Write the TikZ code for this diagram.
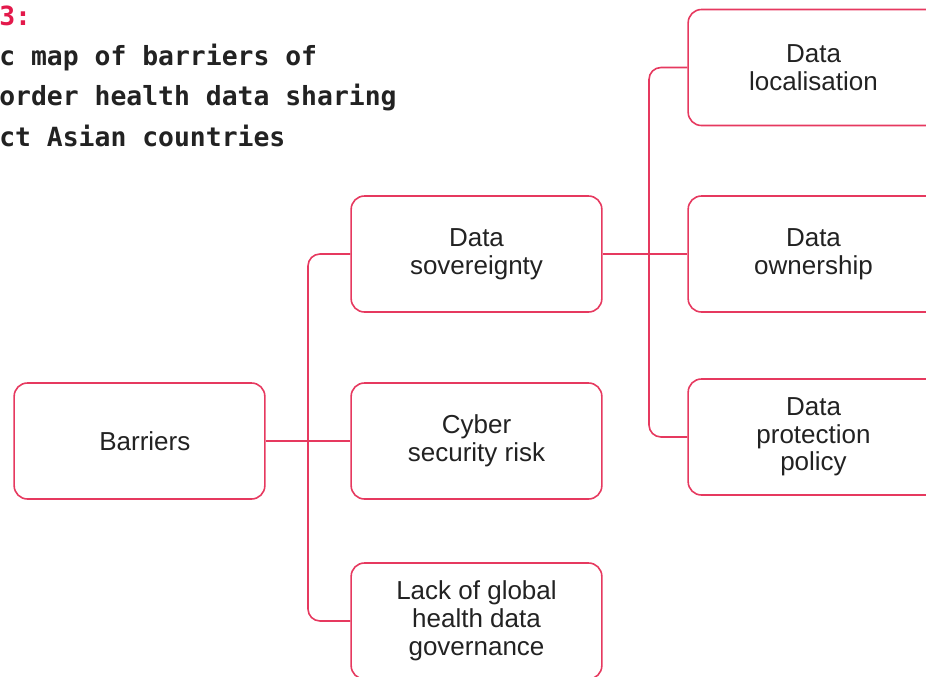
\documentclass[tikz,border=0pt]{standalone}
\usepackage{fontspec}
\setmainfont{Liberation Sans}
\newfontfamily\titlemono{DejaVu Sans Mono}
\usetikzlibrary{positioning}
\definecolor{barrierred}{HTML}{E6395F}
\definecolor{titlered}{HTML}{E3194B}
\definecolor{inkgray}{HTML}{222222}

\begin{document}
\begin{tikzpicture}[x=0.75pt,y=-0.75pt]
\tikzset{mapbox/.style={draw=barrierred,line width=1.2pt,rounded corners=10pt,minimum width=188pt,minimum height=87pt,align=center,text=inkgray,font=\fontsize{19.5}{20.8}\selectfont}}
\tikzset{mapline/.style={draw=barrierred,line width=1.2pt,rounded corners=9pt}}
\tikzset{titleline/.style={anchor=base west,inner sep=0pt,text=inkgray,font=\titlemono\bfseries\fontsize{19.8}{24}\selectfont}}
\useasboundingbox (0,0) rectangle (926,676);
% title, cut at the left edge
\node[titleline,text=titlered] (fignum) at (-1,25) {3:};
\node[titleline] (title1) at (-1,65) {c map of barriers of};
\node[titleline] (title2) at (-1,105) {order health data sharing};
\node[titleline] (title3) at (-1,146) {ct Asian countries};
% boxes
\node[mapbox] (barriers) at (139.5,441) {\hspace*{8pt}Barriers};
\node[mapbox] (sov) at (476.5,254) {Data\\sovereignty};
\node[mapbox] (cyber) at (476.5,441) {Cyber\\security risk};
\node[mapbox] (lack) at (476.5,621) {Lack of global\\health data\\governance};
\node[mapbox] (loc) at (813.5,67.5) {Data\\localisation};
\node[mapbox] (own) at (813.5,254) {Data\\ownership};
\node[mapbox] (prot) at (813.5,437) {Data\\protection\\policy};
% connectors
\coordinate (trunk) at (308,441);
\coordinate (hub) at (649,254);
\draw[mapline] (barriers.east) -- (cyber.west);
\draw[mapline] (sov.west) -| (trunk) |- (lack.west);
\draw[mapline] (sov.east) -- (own.west);
\draw[mapline] (loc.west) -| (hub) |- (prot.west);
\end{tikzpicture}
\end{document}
